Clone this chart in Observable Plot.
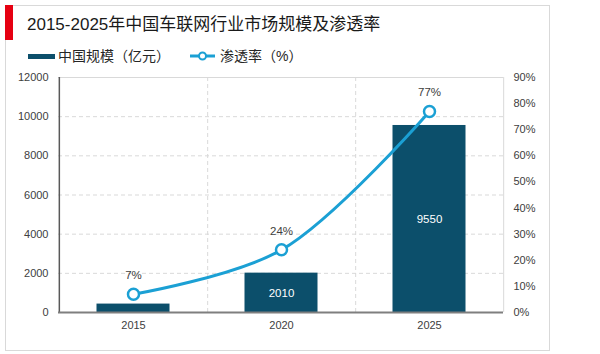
<!DOCTYPE html>
<html><head><meta charset="utf-8">
<script src="https://cdn.jsdelivr.net/npm/d3@7"></script>
<script src="https://cdn.jsdelivr.net/npm/@observablehq/plot@0.6"></script>
<style>
body{margin:0;background:#fff;font-family:"Liberation Sans",Arial,"Noto Sans CJK SC",sans-serif;}
#wrap{position:relative;width:600px;height:354px;overflow:hidden;}
#box{position:absolute;left:5px;top:5px;width:545px;height:346px;border:1px solid #d9d9d9;box-sizing:border-box;}
#redbar{position:absolute;left:5px;top:5px;width:8px;height:35px;background:#e60012;}
#title{position:absolute;left:27px;top:14px;font-size:17px;line-height:22px;color:#1a1a1a;white-space:nowrap;}
#legend{position:absolute;left:28px;top:47px;font-size:14px;line-height:18px;color:#262626;white-space:nowrap;display:flex;align-items:center;}
#legend .item{display:flex;align-items:center;}
#legend svg{display:block;}
#chart{position:absolute;left:0;top:60px;}
</style>
</head><body>
<div id="wrap">
  <div id="box"></div>
  <div id="redbar"></div>
  <div id="title">2015-2025年中国车联网行业市场规模及渗透率</div>
  <div id="legend">
    <div class="item"><svg width="30" height="10"><rect x="0" y="3" width="27" height="5" fill="#0C4F6B"></rect></svg><span>中国规模（亿元）</span></div>
    <div class="item" style="margin-left:20px"><svg width="30" height="12"><line x1="0" y1="6" x2="25" y2="6" stroke="#1BA0D4" stroke-width="3"></line><circle cx="12.5" cy="6" r="3.5" fill="#fff" stroke="#1BA0D4" stroke-width="2"></circle></svg><span>渗透率（%）</span></div>
  </div>
  <div id="chart"></div>
</div>
<script>
const years = ["2015", "2020", "2025"];
const marketSize = [430, 2010, 9550];
const penetration = [7, 24, 77];
const leftTicks = [0, 2000, 4000, 6000, 8000, 10000, 12000];
const rightTicks = [0, 10, 20, 30, 40, 50, 60, 70, 80, 90];

const yMax = 12000, pMax = 90;
const toY = p => p / pMax * yMax;
const rows = years.map((y, i) => ({year: y, size: marketSize[i], rate: penetration[i]}));

const W = 600, H = 294, ML = 58, MR = 97, MT = 17, MB = 42;
const half = (W - ML - MR) / years.length / 2;
const barColor = "#0C4F6B", lineColor = "#1BA0D4", gridColor = "#d9d9d9";
const font = '"Liberation Sans", Arial, "Noto Sans CJK SC", sans-serif';

const chart = Plot.plot({
  width: W, height: H,
  marginTop: MT, marginBottom: MB, marginLeft: ML, marginRight: MR,
  style: {fontFamily: font, fontSize: "11px", color: "#404040", background: "transparent", overflow: "visible"},
  x: {type: "band", domain: years, padding: 0, axis: null, label: null},
  y: {domain: [0, yMax], axis: null, label: null},
  marks: [
    Plot.ruleY(leftTicks.slice(1, -1), {stroke: gridColor, strokeDasharray: "4,3"}),
    Plot.ruleX(years.slice(0, -1), {dx: half, stroke: gridColor, strokeDasharray: "4,3"}),
    Plot.ruleY([yMax], {stroke: gridColor}),
    Plot.ruleX(years.slice(-1), {dx: half, stroke: gridColor}),
    Plot.barY(rows, {x: "year", y: "size", fill: barColor, insetLeft: 37.5, insetRight: 37.5}),
    Plot.ruleX(years.slice(0, 1), {dx: -half, stroke: "#595959", strokeWidth: 1.5}),
    Plot.ruleY([0], {stroke: "#7f7f7f", strokeWidth: 2}),
    Plot.axisY({anchor: "left", label: null, ticks: leftTicks, tickSize: 0, tickPadding: 10, tickFormat: d => String(d)}),
    Plot.axisY({anchor: "right", label: null, ticks: rightTicks.map(toY), tickSize: 0, tickPadding: 10,
      tickFormat: d => Math.round(d / yMax * pMax) + "%"}),
    Plot.axisX({anchor: "bottom", label: null, tickSize: 0, tickPadding: 9}),
    Plot.text(rows.filter(d => d.size >= 1000), {x: "year", y: d => d.size / 2, text: d => String(d.size), fill: "white", fontSize: 11.5}),
    Plot.line(rows, {x: "year", y: d => toY(d.rate), stroke: lineColor, strokeWidth: 3, curve: "catmull-rom"}),
    Plot.dot(rows, {x: "year", y: d => toY(d.rate), r: 5.5, fill: "white", stroke: lineColor, strokeWidth: 2.5}),
    Plot.text(rows, {x: "year", y: d => toY(d.rate), text: d => d.rate + "%", dy: -19, fill: "#404040", fontSize: 11.5})
  ]
});
document.getElementById("chart").appendChild(chart);
</script>
</body></html>
